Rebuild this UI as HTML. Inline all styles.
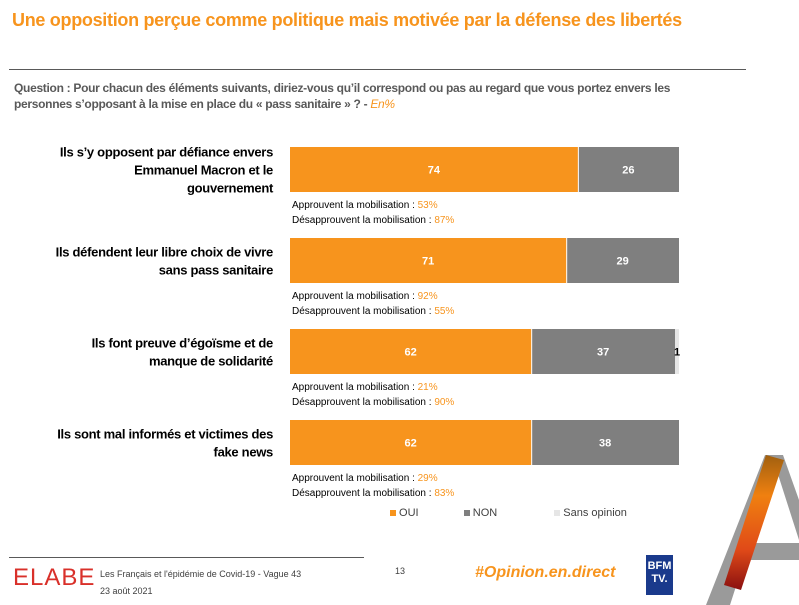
<!DOCTYPE html>
<html><head><meta charset="utf-8"><style>
body{margin:0;width:799px;height:605px;background:#fff;font-family:"Liberation Sans",sans-serif;position:relative;overflow:hidden}
.a{position:absolute}
</style></head><body>
<div class="a" style="left:12px;top:10px;font-size:18px;font-weight:bold;color:#F7941D;white-space:nowrap;letter-spacing:-0.3px">Une opposition perçue comme politique mais motivée par la défense des libertés</div>
<div class="a" style="left:9px;top:69px;width:737px;height:1px;background:#595959"></div>
<div class="a" style="left:14px;top:80px;width:712px;font-size:12px;line-height:16px;color:#595959;font-weight:bold;letter-spacing:-0.3px">Question : Pour chacun des éléments suivants, diriez-vous qu’il correspond ou pas au regard que vous portez envers les personnes s’opposant à la mise en place du « pass sanitaire » ? - <i style="color:#F7941D;font-weight:normal">En%</i></div>
<svg class="a" style="left:0;top:0" width="799" height="605">
<defs><linearGradient id="lg" x1="0" y1="0" x2="0" y2="1"><stop offset="0" stop-color="#a06010"/><stop offset="0.3" stop-color="#f08010"/><stop offset="0.7" stop-color="#e04a18"/><stop offset="1" stop-color="#8a1010"/></linearGradient></defs>
<g id="g"></g>
<g>
<polygon points="765,455 783,455 799,500 799,540 775,465 730,605 706,605" fill="#9a9a9a"/>
<rect x="745" y="543" width="54" height="17" fill="#9a9a9a"/>
<polygon points="766,455 784,460 741,590 724,585" fill="url(#lg)"/>
</g>
</svg>
<div class="a" style="left:390px;top:507px;font-size:11px;color:#404040;white-space:nowrap">
<span><span style="display:inline-block;width:6px;height:6px;background:#F7941D"></span> OUI</span>
<span style="margin-left:42px"><span style="display:inline-block;width:6px;height:6px;background:#7F7F7F"></span> NON</span>
<span style="margin-left:54px"><span style="display:inline-block;width:6px;height:6px;background:#E6E6E6"></span> Sans opinion</span>
</div>
<div class="a" style="left:9px;top:557px;width:355px;height:1px;background:#595959"></div>
<div class="a" style="left:13px;top:564px;font-size:24px;color:#d9302a;letter-spacing:1px">ELABE</div>
<div class="a" style="left:100px;top:566px;font-size:9px;line-height:17px;color:#404040">Les Français et l'épidémie de Covid-19 - Vague 43<br>23 août 2021</div>
<div class="a" style="left:395px;top:566px;font-size:9px;color:#404040">13</div>
<div class="a" style="left:475px;top:564px;font-size:16px;font-weight:bold;font-style:italic;color:#F7941D">#Opinion.en.direct</div>
<div class="a" style="left:646px;top:555px;width:27px;height:40px;background:#1a3a8c;color:#fff;font-weight:bold;font-size:11px;line-height:13px;text-align:center;padding-top:5px;box-sizing:border-box">BFM<br>TV.</div>
<script>
const categories=[["Ils s’y opposent par défiance envers","Emmanuel Macron et le","gouvernement"],["Ils défendent leur libre choix de vivre","sans pass sanitaire"],["Ils font preuve d’égoïsme et de","manque de solidarité"],["Ils sont mal informés et victimes des","fake news"]];
const oui=[74,71,62,62];
const non=[26,29,37,38];
const sans=[0,0,1,0];
const approuvent=[53,92,21,29];
const desapprouvent=[87,55,90,83];
const X0=290,W=389,Y0=147,STEP=91,H=45;
const xs=v=>v*W/100;
const g=document.getElementById('g');
const NS='http://www.w3.org/2000/svg';
function mk(t,a,txt){const e=document.createElementNS(NS,t);for(const k in a)e.setAttribute(k,a[k]);if(txt!==undefined)e.textContent=txt;g.appendChild(e);return e;}
categories.forEach((c,i)=>{
 const y=Y0+i*STEP;
 const wo=xs(oui[i]),wn=xs(non[i]),ws=xs(sans[i]);
 let r=mk('rect',{x:X0,y:y,width:wo,height:H,fill:'#F7941D'});
 
 
 r=mk('rect',{x:X0+wo+1,y:y,width:wn-1,height:H,fill:'#7F7F7F'});
 
 
 if(sans[i]>0){r=mk('rect',{x:X0+wo+wn,y:y,width:ws,height:H,fill:'#E6E6E6'});
 
 
 let t=mk('text',{x:X0+wo+wn+ws/2,y:y+H/2+4,'font-size':11,'font-weight':'bold','text-anchor':'middle',fill:'#000'},sans[i]);
 
 }
 let t=mk('text',{x:X0+wo/2,y:y+H/2+4,'font-size':11,'font-weight':'bold','text-anchor':'middle',fill:'#fff'},oui[i]);
 
 
 t=mk('text',{x:X0+wo+wn/2,y:y+H/2+4,'font-size':11,'font-weight':'bold','text-anchor':'middle',fill:'#fff'},non[i]);
 
 
 const n=c.length,cy=y+H/2-(n-1)*9+5;
 c.forEach((l,j)=>{const tt=mk('text',{x:273,y:cy+j*18,'font-size':13,'font-weight':'bold','text-anchor':'end',fill:'#000','letter-spacing':'-0.3'},l);
 
 });
 const a=mk('text',{x:292,y:y+H+16,'font-size':10,fill:'#000'});
 
 
 a.innerHTML='Approuvent la mobilisation : <tspan fill="#F7941D">'+approuvent[i]+'%</tspan>';
 const d=mk('text',{x:292,y:y+H+31,'font-size':10,fill:'#000'});
 
 
 d.innerHTML='Désapprouvent la mobilisation : <tspan fill="#F7941D">'+desapprouvent[i]+'%</tspan>';
});
</script>
</body></html>
